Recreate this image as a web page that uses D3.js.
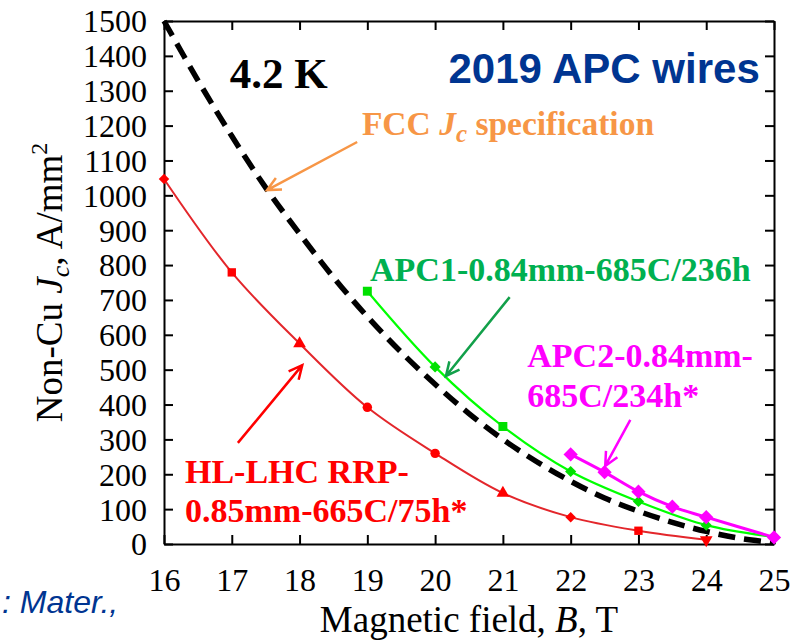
<!DOCTYPE html>
<html>
<head>
<meta charset="utf-8">
<script src="https://cdn.jsdelivr.net/npm/d3@7"></script>
<style>
  body { margin: 0; background: #fff; }
  svg { display: block; font-family: "Liberation Serif", "Times New Roman", serif; }
</style>
</head>
<body>
<svg id="chart" width="797" height="640"></svg>
<script>
// Données
const xTicks = [16, 17, 18, 19, 20, 21, 22, 23, 24, 25]
const yTicks = [0, 100, 200, 300, 400, 500, 600, 700, 800, 900, 1000, 1100, 1200, 1300, 1400, 1500]

// Spécification FCC (courbe pointillée)
const fccB  = [16, 16.5, 17, 17.5, 18, 18.5, 19, 19.5, 20, 20.5, 21, 21.5, 22, 22.5, 23, 23.5, 24, 24.5, 25]
const fccJc = [1500, 1330, 1170, 1022, 890, 765, 652, 550, 458, 374, 300, 236, 180, 132, 94, 62, 36, 16, 4]

// HL-LHC RRP
const hlB  = [16, 17, 18, 19, 20, 21, 22, 23, 24]
const hlJc = [1047, 779, 575, 392, 260, 146, 77, 38, 12]
const hlSym = ["diamond", "square", "triangle", "circle", "circle", "triangle", "diamond", "square", "triangleDown"]

// APC1
const apc1B  = [19, 20, 21, 22, 23, 24, 25]
const apc1Jc = [725, 508, 337, 208, 122, 54, 20]
const apc1Sym = ["square", "diamond", "square", "diamond", "diamond", "diamond", "diamond"]

// APC2
const apc2B  = [22, 22.5, 23, 23.5, 24, 25]
const apc2Jc = [257, 206, 150, 107, 77, 19]

const width = 797
const height = 640
const margin = {top: 21, right: 23, bottom: 96, left: 164}
const w = width - margin.left - margin.right
const h = height - margin.top - margin.bottom

const svg = d3.select("#chart")
const g = svg.append("g").attr("transform", "translate(" + margin.left + "," + margin.top + ")")

const x = d3.scaleLinear().domain([16, 25]).range([0, w])
const y = d3.scaleLinear().domain([0, 1500]).range([h, 0])

/* Axes
-------------------------------------------------------------------------------------------------*/
const tick = 9

const axB = g.append("g").attr("transform", "translate(0," + h + ")")
  .call(d3.axisBottom(x).tickValues(xTicks).tickFormat(d3.format("d")).tickSizeInner(-tick).tickSizeOuter(0).tickPadding(24))
const axL = g.append("g")
  .call(d3.axisLeft(y).tickValues(yTicks).tickFormat(d3.format("d")).tickSizeInner(-tick).tickSizeOuter(0).tickPadding(17))
const axT = g.append("g")
  .call(d3.axisTop(x).tickValues(xTicks).tickSizeInner(-tick).tickSizeOuter(0).tickFormat(""))
const axR = g.append("g").attr("transform", "translate(" + w + ",0)")
  .call(d3.axisRight(y).tickValues(yTicks).tickSizeInner(-tick).tickSizeOuter(0).tickFormat(""))

;[axB, axL, axT, axR].forEach(a => {
  a.select(".domain").attr("stroke", "#000").attr("stroke-width", 2)
  a.selectAll(".tick line").attr("stroke", "#000").attr("stroke-width", 2)
  a.selectAll("text").attr("fill", "#000").style("font-family", "Liberation Serif").style("font-size", "32px")
})
axB.selectAll("text").attr("dy", "0.71em")
axL.selectAll("text").attr("dy", "0.34em")

// Titres d'axes
g.append("text")
  .attr("x", w / 2)
  .attr("y", h + 88)
  .attr("text-anchor", "middle")
  .style("font-size", "37px")
  .call(t => {
    t.append("tspan").text("Magnetic field, ")
    t.append("tspan").style("font-style", "italic").text("B")
    t.append("tspan").text(", T")
  })

g.append("text")
  .attr("transform", "translate(" + (62 - margin.left) + "," + (h / 2) + ") rotate(-90)")
  .attr("text-anchor", "middle")
  .style("font-size", "37px")
  .call(t => {
    t.append("tspan").text("Non-Cu ")
    t.append("tspan").style("font-style", "italic").text("J")
    t.append("tspan").style("font-style", "italic").style("font-size", "26px").attr("dy", 7).text("c")
    t.append("tspan").attr("dy", -7).text(", A/mm")
    t.append("tspan").style("font-size", "24px").attr("dy", -15).text("2")
  })

/* Courbes
-------------------------------------------------------------------------------------------------*/
const line = d3.line().x(d => x(d[0])).y(d => y(d[1])).curve(d3.curveCatmullRom)

// FCC
g.append("path")
  .datum(d3.zip(fccB, fccJc))
  .attr("fill", "none")
  .attr("stroke", "#000")
  .attr("stroke-width", 5.5)
  .attr("stroke-dasharray", "17,9")
  .attr("d", line)

const drawSeries = (B, J, syms, color, markColor, lw, size) => {
  const data = d3.zip(B, J)
  g.append("path")
    .datum(data)
    .attr("fill", "none")
    .attr("stroke", color)
    .attr("stroke-width", lw)
    .attr("d", line)
  const types = {diamond: d3.symbolDiamond2, square: d3.symbolSquare, triangle: d3.symbolTriangle,
    triangleDown: d3.symbolTriangle, circle: d3.symbolCircle}
  g.append("g").selectAll("path")
    .data(data)
    .join("path")
    .attr("transform", (d, i) => "translate(" + x(d[0]) + "," + y(d[1]) + ")" + (syms[i] === "triangleDown" ? " rotate(180)" : ""))
    .attr("fill", markColor)
    .attr("d", (d, i) => d3.symbol(types[syms[i]], size)())
}

drawSeries(hlB, hlJc, hlSym, "#e3262b", "#ff0000", 2, 70)
drawSeries(apc1B, apc1Jc, apc1Sym, "#00ff00", "#00e000", 2.2, 80)
drawSeries(apc2B, apc2Jc, apc2B.map(() => "diamond"), "#ff00ff", "#ff00ff", 3, 130)

/* Annotations
-------------------------------------------------------------------------------------------------*/
const arrow = (from, to, color) => {
  const x1 = x(from[0]), y1 = y(from[1]), x2 = x(to[0]), y2 = y(to[1])
  const a = Math.atan2(y2 - y1, x2 - x1)
  const len = 15, sp = Math.PI / 7
  const p = d3.path()
  p.moveTo(x1, y1); p.lineTo(x2, y2)
  p.moveTo(x2 - len * Math.cos(a - sp), y2 - len * Math.sin(a - sp))
  p.lineTo(x2, y2)
  p.lineTo(x2 - len * Math.cos(a + sp), y2 - len * Math.sin(a + sp))
  g.append("path").attr("d", p.toString()).attr("fill", "none")
    .attr("stroke", color).attr("stroke-width", 2.5).attr("stroke-linejoin", "miter")
}

arrow([18.85, 1153], [17.52, 1015], "#f79646")
arrow([21.10, 708], [20.16, 482], "#12a04a")
arrow([22.88, 356], [22.51, 224], "#ff00ff")
arrow([17.09, 290], [18.04, 513], "#ff0000")

const label = (B, J, txt, color, size) =>
  g.append("text")
    .attr("x", x(B)).attr("y", y(J))
    .attr("fill", color)
    .style("font-weight", "bold")
    .style("font-size", size + "px")
    .text(txt)

label(16.97, 1308, "4.2 K", "#000", 43)

g.append("text")
  .attr("x", x(24.79)).attr("y", y(1322))
  .attr("text-anchor", "end")
  .attr("fill", "#003591")
  .style("font-family", "Liberation Sans")
  .style("font-weight", "bold")
  .style("font-size", "42px")
  .text("2019 APC wires")

label(18.92, 1173, "FCC ", "#f79646", 33.5)
  .call(t => {
    t.append("tspan").style("font-style", "italic").text("J")
    t.append("tspan").style("font-style", "italic").style("font-size", "25px").attr("dy", 7).text("c")
    t.append("tspan").attr("dy", -7).text(" specification")
  })

label(19.04, 754, "APC1-0.84mm-685C/236h", "#00b050", 34)
label(21.36, 508, "APC2-0.84mm-", "#ff00ff", 34)
label(21.36, 393, "685C/234h*", "#ff00ff", 34)
label(16.31, 175, "HL-LHC RRP-", "#ff0000", 34)
label(16.31, 63, "0.85mm-665C/75h*", "#ff0000", 34)

// Référence (coupée à gauche dans l'original)
svg.append("text")
  .attr("x", 2).attr("y", 613)
  .attr("fill", "#003591")
  .style("font-family", "Liberation Sans")
  .style("font-style", "italic")
  .style("font-size", "32px")
  .text(": Mater.,")
</script>
</body>
</html>
